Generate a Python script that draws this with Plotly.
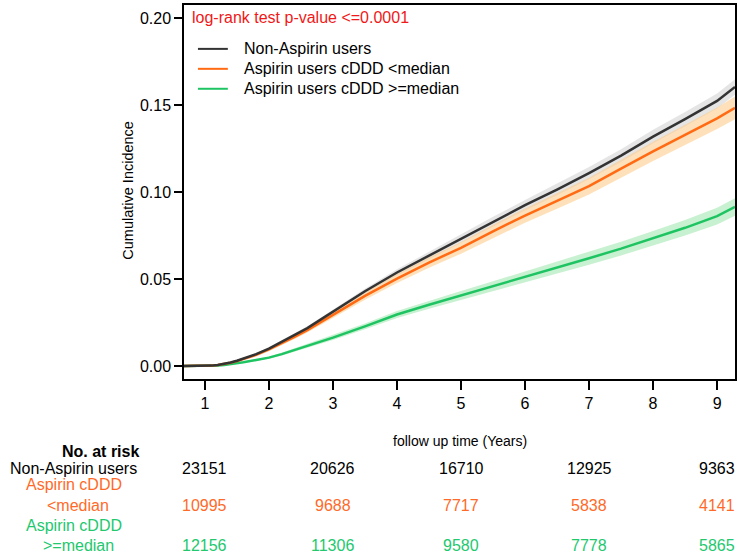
import plotly.graph_objects as go

# ---------------- data ----------------
time = [0.67, 1.0, 1.1, 1.2, 1.3, 1.4, 1.5, 1.6, 1.8, 2.0, 2.2, 2.4, 2.6, 2.8, 3.0,
        3.5, 4.0, 4.5, 5.0, 5.5, 6.0, 6.5, 7.0, 7.5, 8.0, 8.5, 9.0, 9.28]

non_asp = [0, 0, 0.0002, 0.0006, 0.0012, 0.0020, 0.0030, 0.0042, 0.0068, 0.0100, 0.0138, 0.0178, 0.0218, 0.0265, 0.0312,
           0.0430, 0.0538, 0.0635, 0.0730, 0.0830, 0.0925, 0.1015, 0.1110, 0.1210, 0.1320, 0.1420, 0.1525, 0.1605]
non_asp_lo = [0, 0, 0.0001, 0.0005, 0.0010, 0.0017, 0.0027, 0.0038, 0.0063, 0.0093, 0.0130, 0.0169, 0.0208, 0.0254, 0.0300,
              0.0415, 0.0520, 0.0613, 0.0705, 0.0802, 0.0895, 0.0982, 0.1075, 0.1173, 0.1281, 0.1379, 0.1482, 0.1560]
non_asp_hi = [0, 0, 0.0003, 0.0007, 0.0014, 0.0023, 0.0033, 0.0046, 0.0073, 0.0107, 0.0146, 0.0187, 0.0228, 0.0276, 0.0324,
              0.0445, 0.0556, 0.0657, 0.0755, 0.0858, 0.0955, 0.1048, 0.1145, 0.1247, 0.1359, 0.1461, 0.1568, 0.1650]

low_dose = [0, 0, 0.0002, 0.0005, 0.0011, 0.0019, 0.0028, 0.0040, 0.0064, 0.0095, 0.0130, 0.0168, 0.0206, 0.0250, 0.0295,
            0.0403, 0.0503, 0.0595, 0.0680, 0.0775, 0.0865, 0.0950, 0.1035, 0.1135, 0.1235, 0.1330, 0.1425, 0.1485]
low_dose_lo = [0, 0, 0.0001, 0.0003, 0.0008, 0.0015, 0.0023, 0.0034, 0.0056, 0.0085, 0.0119, 0.0155, 0.0192, 0.0234, 0.0277,
               0.0381, 0.0477, 0.0565, 0.0646, 0.0737, 0.0824, 0.0905, 0.0987, 0.1083, 0.1180, 0.1272, 0.1363, 0.1420]
low_dose_hi = [0, 0, 0.0003, 0.0007, 0.0014, 0.0023, 0.0033, 0.0046, 0.0072, 0.0105, 0.0141, 0.0181, 0.0220, 0.0266, 0.0313,
               0.0425, 0.0529, 0.0625, 0.0714, 0.0813, 0.0906, 0.0995, 0.1083, 0.1187, 0.1290, 0.1388, 0.1487, 0.1550]

high_dose = [0, 0, 0.0001, 0.0003, 0.0006, 0.0010, 0.0015, 0.0021, 0.0034, 0.0048, 0.0068, 0.0092, 0.0116, 0.0140, 0.0163,
             0.0228, 0.0296, 0.0352, 0.0405, 0.0458, 0.0512, 0.0566, 0.0620, 0.0675, 0.0735, 0.0795, 0.0862, 0.0915]
high_dose_lo = [0, 0, 0, 0.0002, 0.0004, 0.0007, 0.0012, 0.0017, 0.0029, 0.0041, 0.0060, 0.0082, 0.0105, 0.0128, 0.0149,
                0.0211, 0.0276, 0.0329, 0.0379, 0.0429, 0.0480, 0.0531, 0.0582, 0.0635, 0.0693, 0.0750, 0.0814, 0.0865]
high_dose_hi = [0, 0, 0.0002, 0.0004, 0.0008, 0.0013, 0.0018, 0.0025, 0.0039, 0.0055, 0.0076, 0.0102, 0.0127, 0.0152, 0.0177,
                0.0245, 0.0316, 0.0375, 0.0431, 0.0487, 0.0544, 0.0601, 0.0658, 0.0715, 0.0777, 0.0840, 0.0910, 0.0965]

series_names = ["Non-Aspirin users", "Aspirin users cDDD <median", "Aspirin users cDDD >=median"]

risk_times = [1, 3, 5, 7, 9]
risk_non_asp = [23151, 20626, 16710, 12925, 9363]
risk_low = [10995, 9688, 7717, 5838, 4141]
risk_high = [12156, 11306, 9580, 7778, 5865]

x_ticks = [1, 2, 3, 4, 5, 6, 7, 8, 9]
y_ticks = [0.00, 0.05, 0.10, 0.15, 0.20]

# ---------------- styles ----------------
FONT = "Liberation Sans, Arial, sans-serif"
C_BLACK = "#333333"
C_ORANGE = "#ff6a13"
C_GREEN = "#1fc462"
B_BLACK = "rgba(190,190,190,0.4)"
B_ORANGE = "rgba(253,205,140,0.6)"
B_GREEN = "rgba(130,225,150,0.45)"
T_ORANGE = "#ff6a28"
T_GREEN = "#22c86e"

W, H = 740, 558
L, R, T, B = 184, 3, 4, 179
plot_h = H - T - B


def py(p):
    """pixel y (from top) -> paper y"""
    return (H - B - p) / plot_h


def px(p):
    return (p - L) / (W - L - R)


fig = go.Figure()

bands = [(non_asp_lo, non_asp_hi, B_BLACK), (low_dose_lo, low_dose_hi, B_ORANGE),
         (high_dose_lo, high_dose_hi, B_GREEN)]
for lo, hi, col in bands:
    fig.add_trace(go.Scatter(x=time, y=lo, mode="lines", line=dict(width=0, color=col),
                             showlegend=False, hoverinfo="skip"))
    fig.add_trace(go.Scatter(x=time, y=hi, mode="lines", line=dict(width=0, color=col),
                             fill="tonexty", fillcolor=col, showlegend=False, hoverinfo="skip"))

lines = [(high_dose, C_GREEN, series_names[2]),
         (low_dose, C_ORANGE, series_names[1]),
         (non_asp, C_BLACK, series_names[0])]
for ys, col, name in lines:
    fig.add_trace(go.Scatter(x=time, y=ys, mode="lines", name=name, showlegend=False,
                             line=dict(color=col, width=2.5)))

annotations = []
shapes = []

# manual legend (keeps the reference's 20 px row spacing)
for i, (name, col) in enumerate(zip(series_names, [C_BLACK, C_ORANGE, C_GREEN])):
    yy = py(48 + 20 * i)
    shapes.append(dict(type="line", xref="paper", yref="paper", x0=px(198), x1=px(228), y0=yy, y1=yy,
                       line=dict(color=col, width=2)))
    annotations.append(dict(text=name.replace("<", "&lt;").replace(">", "&gt;"), x=px(242), y=yy,
                            xref="paper", yref="paper", xanchor="left", yanchor="middle", showarrow=False,
                            font=dict(family=FONT, size=16, color="black")))

annotations.append(dict(text="log-rank test p-value &lt;=0.0001", x=px(190), y=py(17), xref="paper", yref="paper",
                        xanchor="left", yanchor="middle", showarrow=False,
                        font=dict(family=FONT, size=16, color="#f01818")))
annotations.append(dict(text="Cumulative Incidence", x=px(127), y=py(190), xref="paper", yref="paper",
                        textangle=-90, xanchor="center", yanchor="middle", showarrow=False,
                        font=dict(family=FONT, size=14.5, color="black")))
annotations.append(dict(text="follow up time (Years)", x=px(461), y=py(441), xref="paper", yref="paper",
                        xanchor="center", yanchor="middle", showarrow=False,
                        font=dict(family=FONT, size=14, color="black")))
annotations.append(dict(text="<b>No. at risk</b>", x=px(141), y=py(452), xref="paper", yref="paper",
                        xanchor="right", yanchor="middle", showarrow=False,
                        font=dict(family=FONT, size=16, color="black")))
annotations.append(dict(text="Non-Aspirin users", x=px(139), y=py(469), xref="paper", yref="paper",
                        xanchor="right", yanchor="middle", showarrow=False,
                        font=dict(family=FONT, size=16, color="black")))
for txt, cx, cy, col in [("Aspirin cDDD", 74, 485, T_ORANGE), ("&lt;median", 78, 506, T_ORANGE),
                         ("Aspirin cDDD", 74, 526, T_GREEN), ("&gt;=median", 78, 546, T_GREEN)]:
    annotations.append(dict(text=txt, x=px(cx), y=py(cy), xref="paper", yref="paper",
                            xanchor="center", yanchor="middle", showarrow=False,
                            font=dict(family=FONT, size=16, color=col)))
for vals, cy, col in [(risk_non_asp, 469, "black"), (risk_low, 506, T_ORANGE), (risk_high, 546, T_GREEN)]:
    for t, v in zip(risk_times, vals):
        annotations.append(dict(text=str(v), x=t, y=py(cy), xref="x", yref="paper",
                                xanchor="center", yanchor="middle", showarrow=False,
                                font=dict(family=FONT, size=16, color=col)))

fig.update_layout(
    width=W, height=H,
    margin=dict(l=L, r=R, t=T, b=B, pad=0),
    paper_bgcolor="white", plot_bgcolor="white",
    font=dict(family=FONT, size=16, color="black"),
    showlegend=False,
    annotations=annotations,
    shapes=shapes,
    xaxis=dict(range=[0.673, 9.28], tickvals=x_ticks, ticks="outside", ticklen=9, tickwidth=1.5,
               tickcolor="black", showline=True, linecolor="black", linewidth=1.5, mirror=True,
               showgrid=False, zeroline=False, tickfont=dict(family=FONT, size=16)),
    yaxis=dict(range=[-0.0075, 0.2077], tickvals=y_ticks, tickformat=".2f", ticks="outside", ticklen=8,
               tickwidth=1.5, tickcolor="black", showline=True, linecolor="black", linewidth=1.5,
               mirror=True, showgrid=False, zeroline=False, tickfont=dict(family=FONT, size=16)),
)

fig.write_html("out.html", config={"displayModeBar": False},
               post_script="document.body.style.margin='0px';document.body.style.overflow='hidden';")
